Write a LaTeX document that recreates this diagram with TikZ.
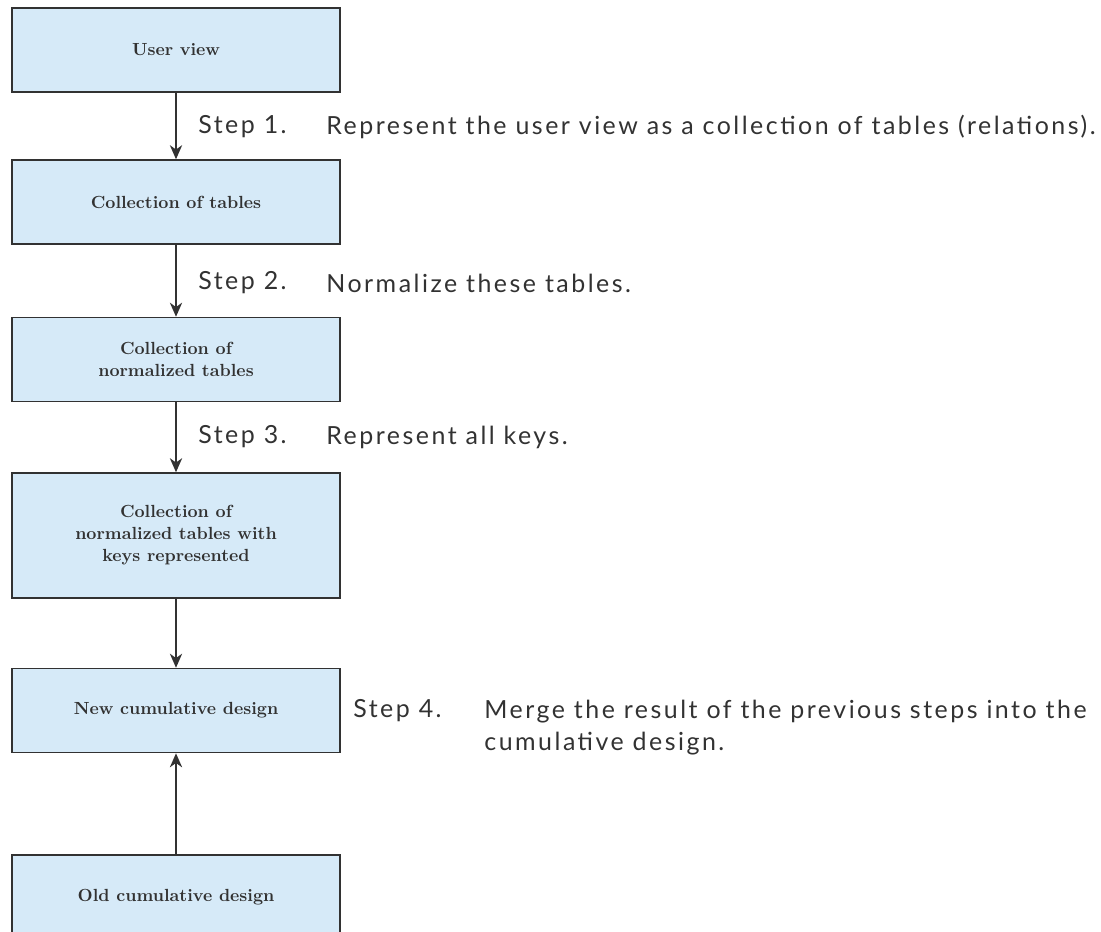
\documentclass[tikz,border=0pt]{standalone}
\usepackage{fontspec}
\newfontfamily\stepfont[LetterSpace=10]{Lato}
\usetikzlibrary{arrows.meta}
\definecolor{boxblue}{RGB}{214,234,248}
\definecolor{inkgray}{RGB}{50,50,50}

\begin{document}
\begin{tikzpicture}[x=0.02cm,y=-0.02cm,
	stagebox/.style={draw=inkgray,fill=boxblue,line width=0.9pt,minimum width=6.56cm,minimum height=1.68cm,
		align=center,text=inkgray,font=\fontsize{10}{12.5}\selectfont\bfseries},
	steptext/.style={anchor=west,text=inkgray,font=\stepfont\fontsize{14.2}{18}\selectfont,inner sep=0pt},
	flow/.style={draw=inkgray,line width=0.9pt,-{Stealth[length=8pt,width=7pt,inset=2.5pt]}}]
	\useasboundingbox (0,0) rectangle (1101,931);
	\clip (0,0) rectangle (1101,931);
	% the stages
	\node[stagebox] (uview) at (176,50) {User view};
	\node[stagebox] (ctables) at (176,202) {Collection of tables};
	\node[stagebox] (ntables) at (176,359.5) {Collection of\\normalized tables};
	\node[stagebox,minimum height=2.5cm] (ktables) at (176,535.5) {Collection of\\normalized tables with\\keys represented};
	\node[stagebox] (newdesign) at (176,710.5) {New cumulative design};
	\node[stagebox] (olddesign) at (176,897) {Old cumulative design};
	% the steps
	\node[steptext] (s1) at (198,127) {Step 1.};
	\node[steptext] (r1) at (326,127) {Represent the user view as a collection of tables (relations).};
	\node[steptext] (s2) at (198,283) {Step 2.};
	\node[steptext] (r2) at (326,283) {Normalize these tables.};
	\node[steptext] (s3) at (198,437) {Step 3.};
	\node[steptext] (r3) at (326,437) {Represent all keys.};
	\node[steptext] (s4) at (353,711) {Step 4.};
	\node[steptext,align=left,anchor=north west] (r4) at (484,700) {Merge the result of the previous steps into the\\cumulative design.};
	% connectors
	\draw[flow] (uview) -- (ctables);
	\draw[flow] (ctables) -- (ntables);
	\draw[flow] (ntables) -- (ktables);
	\draw[flow] (ktables) -- (newdesign);
	\draw[flow] (olddesign) -- (newdesign);
\end{tikzpicture}
\end{document}
